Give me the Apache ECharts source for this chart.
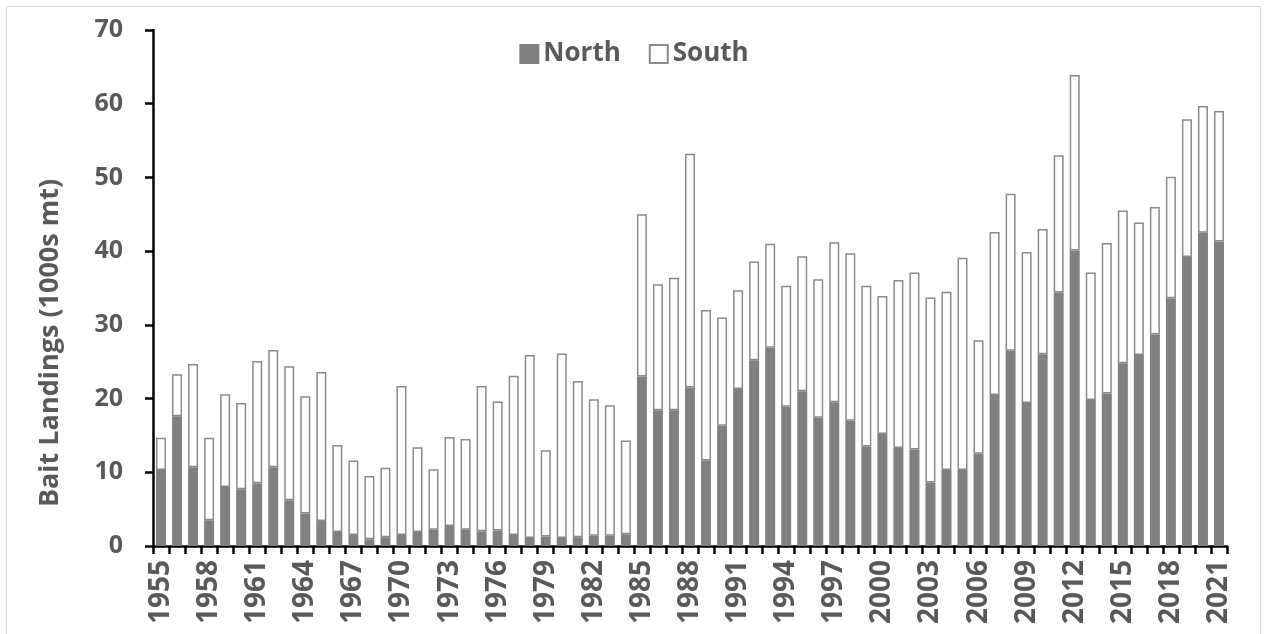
<!DOCTYPE html>
<html>
<head>
<meta charset="utf-8">
<title>Bait Landings</title>
<script src="https://cdn.jsdelivr.net/npm/echarts@6/dist/echarts.min.js"></script>
<style>
  html, body { margin: 0; padding: 0; background: #fff; overflow: hidden; }
  #frame { position: absolute; left: 6px; top: 6px; width: 1253px; height: 660px; border: 1.5px solid #d9d9d9; }
  #BarChart { position: absolute; left: 0; top: 0; width: 1268px; height: 634px; }
</style>
</head>
<body>
<div id="frame"></div>
<div id="BarChart"></div>
<script>
// years 1955 - 2021
var years = [];
for (var y = 1955; y <= 2021; y++) years.push(String(y));

// landings, 1000s mt
var north = [
  10.3, 17.6, 10.7, 3.5, 8.0, 7.7, 8.5, 10.7, 6.2, 4.4,
  3.4, 1.9, 1.5, 0.9, 1.2, 1.5, 1.9, 2.2, 2.7, 2.2,
  2.0, 2.1, 1.5, 1.1, 1.3, 1.1, 1.2, 1.4, 1.4, 1.6,
  23.0, 18.4, 18.4, 21.5, 11.6, 16.3, 21.3, 25.2, 26.9, 18.9,
  21.0, 17.4, 19.5, 17.0, 13.5, 15.2, 13.3, 13.1, 8.6, 10.3,
  10.3, 12.5, 20.5, 26.5, 19.4, 26.0, 34.4, 40.1, 19.8, 20.7,
  24.8, 25.9, 28.7, 33.6, 39.2, 42.5, 41.3
];
var south = [
  4.4, 5.7, 14.0, 11.2, 12.6, 11.7, 16.6, 15.9, 18.2, 15.9,
  20.2, 11.8, 10.1, 8.6, 9.4, 20.2, 11.5, 8.2, 12.1, 12.3,
  19.7, 17.5, 21.6, 24.8, 11.7, 25.0, 21.2, 18.5, 17.7, 12.7,
  22.0, 17.1, 18.0, 31.7, 20.4, 14.7, 13.4, 13.4, 14.1, 16.4,
  18.3, 18.8, 21.7, 22.7, 21.8, 18.7, 22.8, 24.0, 25.1, 24.2,
  28.8, 15.4, 22.1, 21.3, 20.5, 17.0, 18.6, 23.8, 17.3, 20.4,
  20.7, 18.0, 17.3, 16.5, 18.7, 17.2, 17.7
];

var yTicks = { min: 0, max: 70, interval: 10 };
var seriesNames = ["North", "South"];

var FONT = "Open Sans";
var TEXT = "#595959";

var chart = echarts.init(document.getElementById("BarChart"), null, { renderer: "canvas" });
var options = {
  animation: false,
  backgroundColor: "transparent",
  textStyle: { fontFamily: FONT },
  legend: {
    top: 36,
    left: "center",
    icon: "rect",
    itemWidth: 18,
    itemHeight: 18,
    itemGap: 28,
    data: seriesNames,
    textStyle: { color: TEXT, fontSize: 26, fontWeight: "bold", fontFamily: FONT },
  },
  grid: {
    left: 153,
    right: 41,
    top: 30,
    bottom: 88,
    containLabel: false,
  },
  graphic: [
    {
      // y axis title
      type: "text",
      rotation: Math.PI / 2,
      x: 50,
      y: 343,
      style: {
        text: "Bait Landings (1000s mt)",
        fill: TEXT,
        fontSize: 27,
        fontWeight: "bold",
        fontFamily: FONT,
        align: "center",
        verticalAlign: "middle",
      },
    },
  ],
  xAxis: {
    type: "category",
    data: years,
    boundaryGap: true,
    axisLine: { show: true, lineStyle: { color: "#000", width: 2.5 } },
    axisTick: {
      show: true,
      interval: 0,
      alignWithLabel: false,
      length: 8,
      lineStyle: { color: "#000", width: 2.5 },
    },
    axisLabel: {
      interval: 2,
      rotate: 90,
      margin: 14,
      color: TEXT,
      fontSize: 28,
      fontWeight: "bold",
      fontFamily: FONT,
    },
    splitLine: { show: false },
  },
  yAxis: {
    type: "value",
    min: yTicks.min,
    max: yTicks.max,
    interval: yTicks.interval,
    axisLine: { show: true, lineStyle: { color: "#000", width: 2.5 } },
    axisTick: { show: true, inside: false, length: 8, lineStyle: { color: "#000", width: 2.5 } },
    axisLabel: {
      margin: 30,
      color: TEXT,
      fontSize: 25,
      fontWeight: "bold",
      fontFamily: FONT,
    },
    splitLine: { show: false },
  },
  series: [
    {
      name: seriesNames[0],
      type: "bar",
      stack: "total",
      data: north,
      barWidth: 10,
      itemStyle: { color: "#808080", borderColor: "#808080", borderWidth: 1.5 },
    },
    {
      name: seriesNames[1],
      type: "bar",
      stack: "total",
      data: south,
      barWidth: 10,
      itemStyle: { color: "#ffffff", borderColor: "#8a8a8a", borderWidth: 1.5 },
    },
  ],
};
chart.setOption(options);
</script>
</body>
</html>
